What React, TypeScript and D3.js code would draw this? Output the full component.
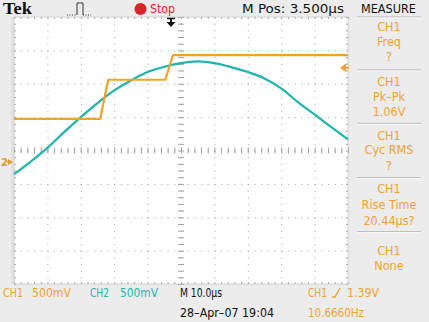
import React from "react";
import * as d3 from "d3";

// ---- data (divisions) ----
const ch2Time = [0, 0.5, 1, 1.5, 2, 2.5, 3, 3.5, 4, 4.5, 5, 5.5, 6, 6.5, 7, 7.5, 8, 8.5, 9, 9.5, 10];
const ch2Volts = [-0.71, -0.33, 0.08, 0.55, 1.0, 1.42, 1.8, 2.1, 2.35, 2.51, 2.62, 2.67, 2.62, 2.5, 2.35, 2.16, 1.86, 1.45, 1.08, 0.7, 0.33];
const ch1Time = [0, 2.58, 2.82, 4.53, 4.76, 10];
const ch1Volts = [0.95, 0.95, 2.12, 2.12, 2.86, 2.86];

const measureBlocks = [
  ["CH1", "Freq", "?"],
  ["CH1", "Pk\u2013Pk", "1.06V"],
  ["CH1", "Cyc RMS", "?"],
  ["CH1", "Rise Time", "20.44\u00b5s?"],
  ["CH1", "None"],
];

const W = 429;
const H = 322;
const ORANGE = "#F2A22C";
const CYAN = "#1DB6AE";
const FONT = "'Liberation Sans Narrow', 'DejaVu Sans Condensed', 'Roboto', sans-serif";

export default function App() {
  const x = d3.scaleLinear().domain([0, 10]).range([14, 348]);
  const y = d3.scaleLinear().domain([-4, 4]).range([284, 17]);

  const ch2Line = d3
    .line<number>()
    .x((_, i) => x(ch2Time[i]))
    .y((d) => y(d))
    .curve(d3.curveMonotoneX)(ch2Volts) as string;
  const ch1Line = d3
    .line<number>()
    .x((_, i) => x(ch1Time[i]))
    .y((d) => y(d))(ch1Volts) as string;

  const minorX = d3.range(0, 50.001, 1).map((i) => i / 5);
  const minorY = d3.range(0, 40.001, 1).map((i) => -4 + i / 5);

  const measureLines: { text: string; y: number }[] = [];
  const lineYs = [
    [26.7, 41.7, 56],
    [81.7, 96.7, 111.7],
    [135, 149.3, 165],
    [188.3, 204.3, 220],
    [250, 265],
  ];
  measureBlocks.forEach((b, bi) =>
    b.forEach((t, li) => measureLines.push({ text: t, y: lineYs[bi][li] + 4.5 }))
  );
  const seps = [17, 70, 123.3, 177.7, 231.7];

  return (
    <svg
      width={W}
      height={H}
      style={{ position: "absolute", left: 0, top: 0, display: "block" }}
      fontFamily={FONT}
    >
      <rect x={0} y={0} width={W} height={H} fill="#ECECEC" />
      {/* plot area */}
      <rect x={x(0)} y={y(4)} width={x(10) - x(0)} height={y(-4) - y(4)} fill="#FFFFFF" />
      <rect x={11} y={y(4)} width={3} height={y(-4) - y(4)} fill="#E2E2E2" />

      {/* grid */}
      <g stroke="#A0A0A0" strokeWidth={1}>
        {d3.range(1, 10).map((i) => (
          <line
            key={"v" + i}
            x1={x(i) + 0.5}
            x2={x(i) + 0.5}
            y1={y(4)}
            y2={y(-4)}
            strokeDasharray="1,5.68"
          />
        ))}
        {d3.range(-3, 4).map((j) => (
          <line
            key={"h" + j}
            x1={x(0)}
            x2={x(10)}
            y1={y(j) + 0.5}
            y2={y(j) + 0.5}
            strokeDasharray="1,5.68"
          />
        ))}
        {minorX.map((t, i) => (
          <g key={"tx" + i}>
            <line x1={x(t) + 0.5} x2={x(t) + 0.5} y1={y(0) - 3} y2={y(0) + 3} />
            <line x1={x(t) + 0.5} x2={x(t) + 0.5} y1={y(4)} y2={y(4) + 2} />
            <line x1={x(t) + 0.5} x2={x(t) + 0.5} y1={y(-4) - 2} y2={y(-4)} />
          </g>
        ))}
        {minorY.map((v, i) => (
          <g key={"ty" + i}>
            <line x1={x(5) - 3} x2={x(5) + 3} y1={y(v) + 0.5} y2={y(v) + 0.5} />
            <line x1={x(0)} x2={x(0) + 2} y1={y(v) + 0.5} y2={y(v) + 0.5} />
            <line x1={x(10) - 2} x2={x(10)} y1={y(v) + 0.5} y2={y(v) + 0.5} />
          </g>
        ))}
      </g>
      <rect
        x={x(0)}
        y={y(4)}
        width={x(10) - x(0)}
        height={y(-4) - y(4)}
        fill="none"
        stroke="#C8C8C8"
        strokeWidth={0.8}
      />

      {/* traces */}
      <path d={ch2Line} fill="none" stroke={CYAN} strokeWidth={2.2} strokeLinejoin="round" />
      <path d={ch1Line} fill="none" stroke={ORANGE} strokeWidth={2.2} strokeLinejoin="round" />

      {/* trigger position arrow */}
      <g fill="#111" stroke="#111">
        <line x1={167} x2={175} y1={18.5} y2={18.5} strokeWidth={1.5} />
        <line x1={171} x2={171} y1={18} y2={23} strokeWidth={2} />
        <path d="M166.5,22 L175.5,22 L171,27 Z" stroke="none" />
      </g>
      {/* trigger level arrow */}
      <g fill={ORANGE} stroke={ORANGE}>
        <path d="M340,67.7 L346,63.5 L346,72 Z" stroke="none" />
        <line x1={345} x2={349} y1={67.7} y2={67.7} strokeWidth={2} />
      </g>
      {/* ch2 ground marker */}
      <g fill="#E39A2A">
        <text x={1} y={166} fontSize={11} fontWeight="bold">
          2
        </text>
        <path d="M8,159 L13,162 L8,165 Z" />
        <line x1={7} x2={11} y1={162} y2={162} stroke="#E39A2A" strokeWidth={1.5} />
      </g>

      {/* header */}
      <text x={3} y={14} fontFamily="'Liberation Serif', serif" fontWeight="bold" fontSize={16} textLength={29} lengthAdjust="spacingAndGlyphs" fill="#111">
        Tek
      </text>
      <g fill="none" stroke="#333" strokeWidth={1}>
        <path d="M67,15 L77,15 M83,15 L91,15" strokeDasharray="1,1.5" />
        <path d="M77,15 L77,3 L83,3 L83,15" />
      </g>
      <circle cx={140.5} cy={9} r={6} fill="#D8242A" />
      <text x={150} y={13} fontSize={13} fill="#D8242A" textLength={25} lengthAdjust="spacingAndGlyphs">
        Stop
      </text>
      <text x={242} y={13} fontSize={13} fill="#111" textLength={102} lengthAdjust="spacingAndGlyphs">
        M Pos: 3.500µs
      </text>
      <text x={361} y={13} fontSize={13} fill="#111" textLength={55} lengthAdjust="spacingAndGlyphs">
        MEASURE
      </text>

      {/* measure panel */}
      {seps.map((s, i) => (
        <g key={"s" + i}>
          <line x1={357} x2={421} y1={s} y2={s} stroke="#B4B4B4" strokeWidth={1} />
          <line x1={357} x2={421} y1={s + 1} y2={s + 1} stroke="#FAFAFA" strokeWidth={1} />
        </g>
      ))}
      {measureLines.map((m, i) => (
        <text key={"m" + i} x={389} y={m.y} fontSize={12.5} fill={ORANGE} textAnchor="middle">
          {m.text}
        </text>
      ))}

      {/* footer */}
      <text x={3} y={297} fontSize={13} fill={ORANGE} textLength={20} lengthAdjust="spacingAndGlyphs">
        CH1
      </text>
      <text x={32} y={297} fontSize={13} fill={ORANGE} textLength={39} lengthAdjust="spacingAndGlyphs">
        500mV
      </text>
      <text x={90} y={297} fontSize={13} fill={CYAN} textLength={19} lengthAdjust="spacingAndGlyphs">
        CH2
      </text>
      <text x={120} y={297} fontSize={13} fill={CYAN} textLength={38} lengthAdjust="spacingAndGlyphs">
        500mV
      </text>
      <text x={180} y={297} fontSize={13} fill="#111" textLength={42} lengthAdjust="spacingAndGlyphs">
        M 10.0µs
      </text>
      <text x={180} y={317} fontSize={13} fill="#111" textLength={94} lengthAdjust="spacingAndGlyphs">
        28–Apr–07 19:04
      </text>
      <text x={308} y={297} fontSize={13} fill={ORANGE} textLength={19} lengthAdjust="spacingAndGlyphs">
        CH1
      </text>
      <path d="M332,297 L335,297 L340,288" fill="none" stroke={ORANGE} strokeWidth={1.3} />
      <text x={347} y={297} fontSize={13} fill={ORANGE} textLength={32} lengthAdjust="spacingAndGlyphs">
        1.39V
      </text>
      <text x={308} y={317} fontSize={13} fill={ORANGE} textLength={56} lengthAdjust="spacingAndGlyphs">
        10.6660Hz
      </text>
    </svg>
  );
}
